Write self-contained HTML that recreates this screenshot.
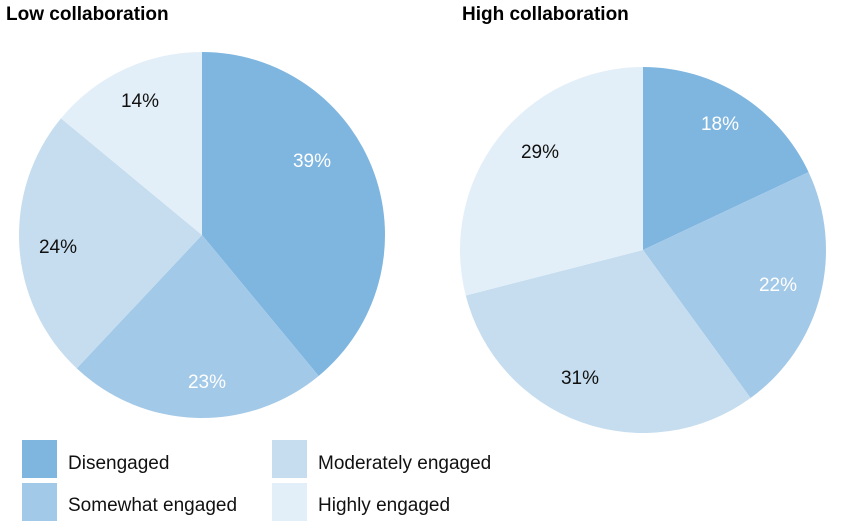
<!DOCTYPE html>
<html><head><style>
body{margin:0;background:#fff;}
svg{display:block;font-family:"Liberation Sans",sans-serif;}
</style></head><body>
<svg id="s" width="850" height="521" viewBox="0 0 850 521">
<text x="6" y="20" font-size="19" font-weight="bold">Low collaboration</text>
<text x="462" y="20" font-size="19" font-weight="bold">High collaboration</text>
<g id="p"></g>
<g font-size="19" text-anchor="middle">
<text x="312" y="167" fill="#fff">39%</text>
<text x="207" y="388" fill="#fff">23%</text>
<text x="58" y="253" fill="#111">24%</text>
<text x="140" y="107" fill="#111">14%</text>
<text x="720" y="130" fill="#fff">18%</text>
<text x="778" y="291" fill="#fff">22%</text>
<text x="580" y="384" fill="#111">31%</text>
<text x="540" y="158" fill="#111">29%</text>
</g>
<rect x="22" y="440" width="35" height="38" fill="#7fb6e0"/>
<rect x="22" y="483" width="35" height="38" fill="#a3c9e8"/>
<rect x="272" y="440" width="35" height="38" fill="#c5ddef"/>
<rect x="272" y="483" width="35" height="38" fill="#e3eff8"/>
<g font-size="19" fill="#111">
<text x="68" y="469">Disengaged</text>
<text x="68" y="511">Somewhat engaged</text>
<text x="318" y="469">Moderately engaged</text>
<text x="318" y="511">Highly engaged</text>
</g>
</svg>
<script>
var cols=["#7fb6e0","#a3c9e8","#c5ddef","#e3eff8"];
function pie(cx,cy,r,v){var g=document.getElementById("p"),a=0,s="";
for(var i=0;i<4;i++){var b=a+v[i];var a0=a*2*Math.PI,a1=b*2*Math.PI;
var x0=cx+r*Math.sin(a0),y0=cy-r*Math.cos(a0),x1=cx+r*Math.sin(a1),y1=cy-r*Math.cos(a1);
s+='<path fill="'+cols[i]+'" d="M'+cx+' '+cy+'L'+x0+' '+y0+'A'+r+' '+r+' 0 '+(v[i]>0.5?1:0)+' 1 '+x1+' '+y1+'Z"/>';a=b;}
g.innerHTML+=s;}
pie(202,235,183,[.39,.23,.24,.14]);
pie(643,250,183,[.18,.22,.31,.29]);
</script>
</body></html>
